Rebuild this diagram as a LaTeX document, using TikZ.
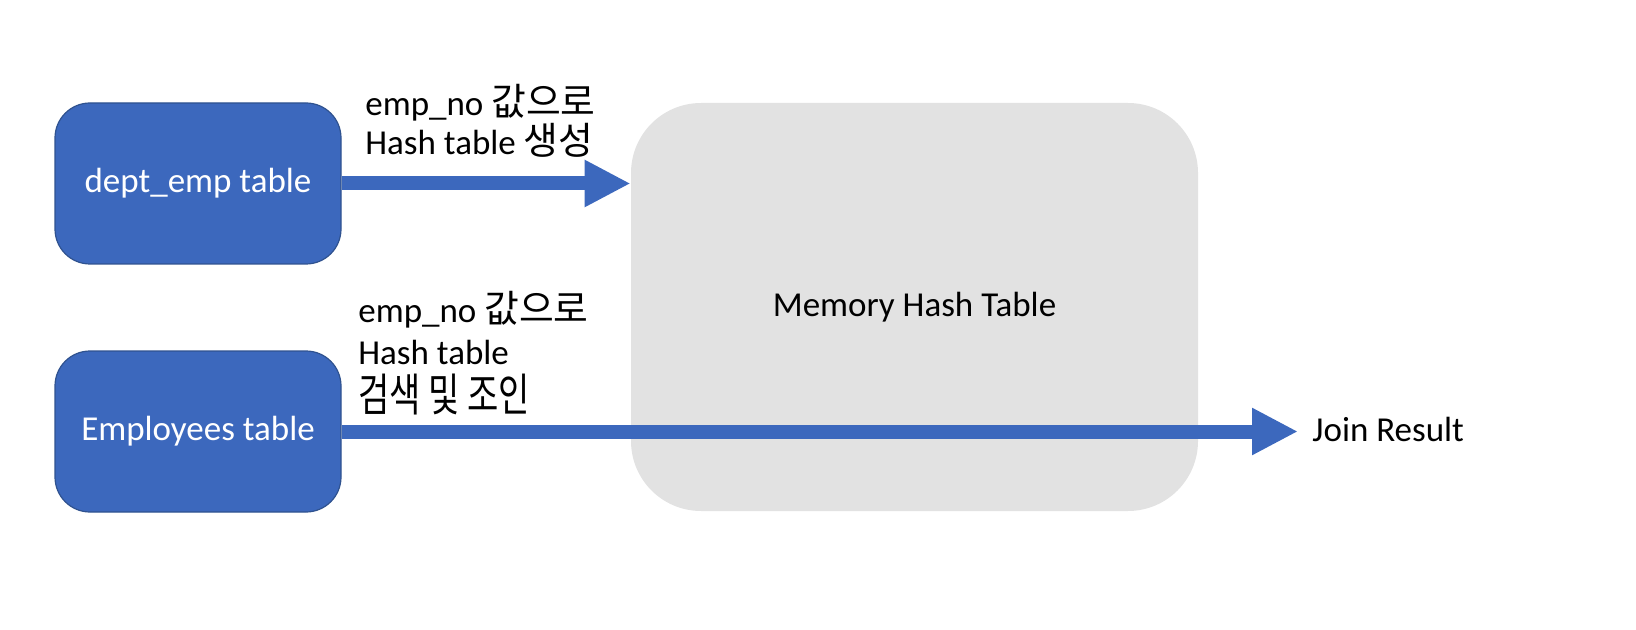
\documentclass[tikz,border=0pt]{standalone}
\usepackage{fontspec}
\usepackage{graphicx}
\setmainfont{Carlito}
\newfontfamily\kr{Noto Sans CJK KR}[Scale=1.08]
\usetikzlibrary{arrows.meta,calc}
\definecolor{boxblue}{HTML}{3C68BD}
\definecolor{boxline}{HTML}{2F528F}
\definecolor{memgray}{HTML}{E2E2E2}
\definecolor{arrowblue}{HTML}{3C68BD}
\begin{document}
\begin{tikzpicture}[x=0.5pt,y=-0.5pt,
  tablebox/.style={draw=boxline, line width=0.6pt, fill=boxblue, rounded corners=17.5pt,
    minimum width=143pt, minimum height=80.5pt, text=white, inner sep=0pt,
    font=\fontsize{17.5}{20}\selectfont},
  membox/.style={fill=memgray, rounded corners=35pt, minimum width=283.5pt,
    minimum height=204pt, inner sep=0pt, font=\fontsize{17.5}{20}\selectfont},
  bigarrow/.style={draw=arrowblue, line width=7pt, -{Triangle[length=23pt,width=22pt]}},
  lbl/.style={align=left, anchor=base west, inner sep=0pt, font=\fontsize{17.5}{19.5}\selectfont},
]
\useasboundingbox (0,0) rectangle (1636,630);
\node[tablebox] (dept) at (198,183.5) {dept\_emp table};
\node[tablebox] (emp) at (198,431.5) {Employees table};
\node[membox] (mem) at (914.5,307) {Memory Hash Table};
\node[lbl, anchor=west] (res) at (1312,429) {Join Result};
\node[lbl] (l1) at (365,155) {emp\_no {\kr 값으로}\\Hash table {\kr 생성}};
\node[lbl, font=\fontsize{17.5}{21}\selectfont] (l2) at (358,411)
  {emp\_no {\kr 값으로}\\Hash table\\[2.5pt]{\kr\scalebox{0.9}[1.2]{검색 및 조인}}};
\draw[bigarrow] (dept.east) -- (dept.east -| mem.west);
\draw[bigarrow] (emp.east) -- ($(emp.east -| res.west)+(-14,0)$);
\end{tikzpicture}
\end{document}
